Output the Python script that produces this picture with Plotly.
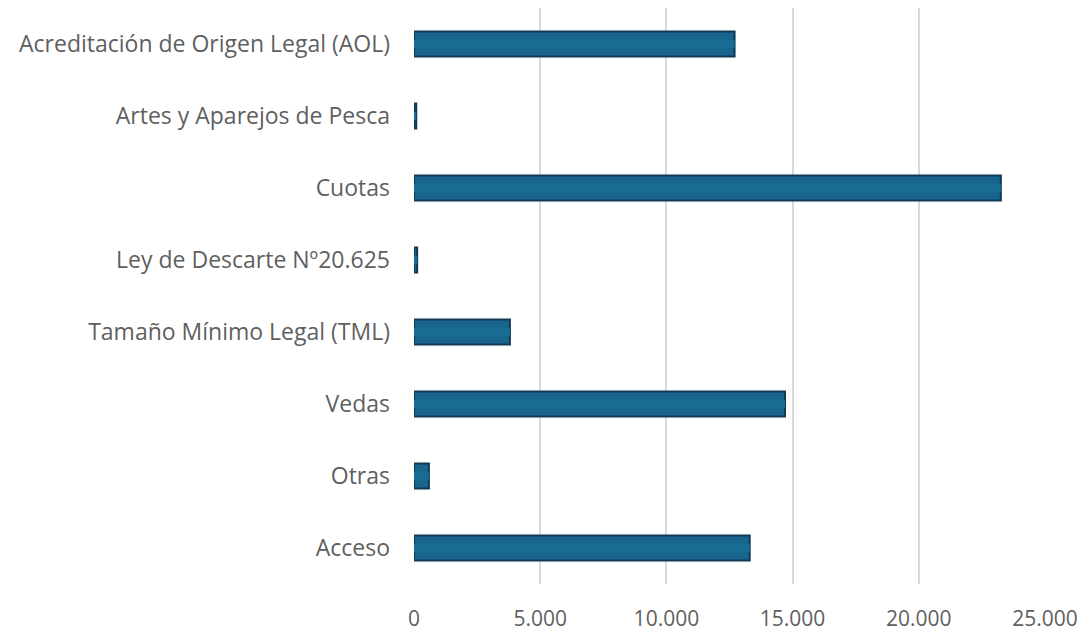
import plotly.graph_objects as go

categories = [
    "Acreditación de Origen Legal (AOL)",
    "Artes y Aparejos de Pesca",
    "Cuotas",
    "Ley de Descarte Nº20.625",
    "Tamaño Mínimo Legal (TML)",
    "Vedas",
    "Otras",
    "Acceso",
]
values = [12700, 90, 23250, 125, 3800, 14700, 590, 13300]
x_ticks = [0, 5000, 10000, 15000, 20000, 25000]

fig = go.Figure()
fig.add_trace(go.Bar(
    y=categories, x=values, orientation="h",
    width=0.35,
    marker=dict(color="#17648c", line=dict(color="#0e3a52", width=2)),
    hoverinfo="x+y",
))
fig.add_trace(go.Bar(
    y=categories, x=values, orientation="h",
    width=0.12,
    marker=dict(color="#1a6b94", line=dict(width=0)),
    hoverinfo="skip",
))

fig.update_layout(
    width=1084, height=633,
    margin=dict(l=414, r=39, t=8, b=49),
    paper_bgcolor="white", plot_bgcolor="white",
    barmode="overlay",
    showlegend=False,
    separators=",.",
    font=dict(family="Open Sans, Liberation Sans, sans-serif", color="#5f5f5f", size=21),
)
fig.update_xaxes(
    range=[0, 25000], tickvals=x_ticks, tickformat=",d",
    tickfont=dict(size=21),
    showgrid=True, gridcolor="#d9d9d9", gridwidth=2,
    zeroline=False, showline=False, ticks="",
    ticklabelstandoff=20, automargin=False,
)
fig.update_yaxes(
    categoryorder="array", categoryarray=categories,
    autorange="reversed",
    tickfont=dict(size=23),
    showgrid=False, zeroline=False, showline=False, ticks="",
    ticklabelstandoff=23, automargin=False,
)
fig.write_html(
    "out.html",
    config={"displayModeBar": False},
    post_script="document.body.style.margin='0';document.body.style.overflow='hidden';",
)
